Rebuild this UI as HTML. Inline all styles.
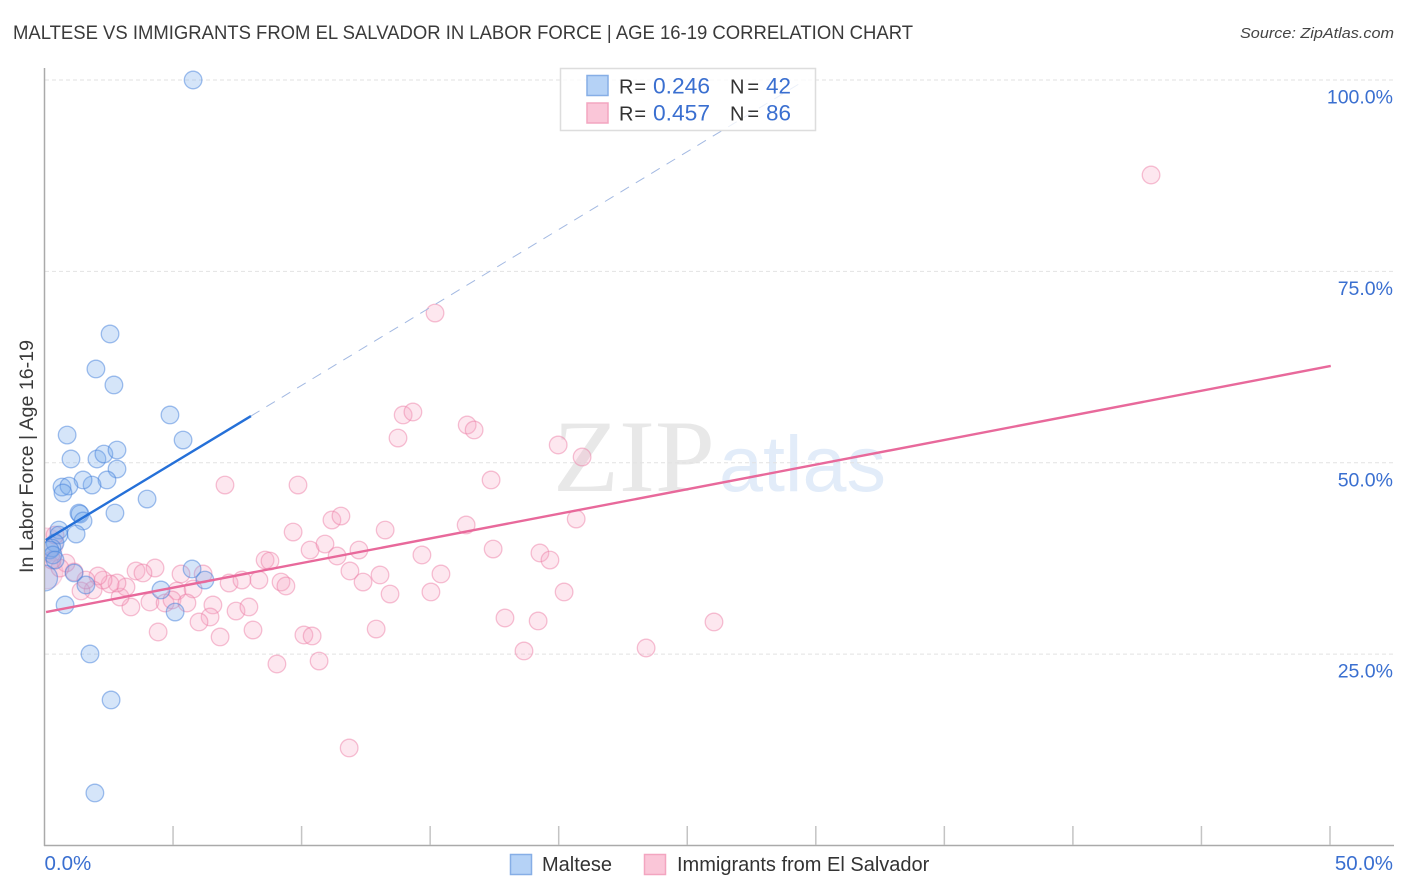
<!DOCTYPE html>
<html>
<head>
<meta charset="utf-8">
<title>Maltese vs Immigrants from El Salvador in Labor Force | Age 16-19 Correlation Chart</title>
<style>
html,body{margin:0;padding:0;background:#fff;}
svg{display:block;font-family:"Liberation Sans",sans-serif;}
</style>
</head>
<body>
<svg id="chart" xmlns="http://www.w3.org/2000/svg" width="1406" height="892" viewBox="0 0 1406 892">
  <defs><clipPath id="plot-clip"><rect x="45" y="60" width="1350" height="785"/></clipPath></defs>
  <rect x="0" y="0" width="1406" height="892" fill="#fff"/>
  <text x="13" y="39" font-size="19.5" fill="#3a3a3a" textLength="900" lengthAdjust="spacingAndGlyphs">MALTESE VS IMMIGRANTS FROM EL SALVADOR IN LABOR FORCE | AGE 16-19 CORRELATION CHART</text>
  <text x="1394" y="38" font-size="15" font-style="italic" fill="#444" text-anchor="end" textLength="154" lengthAdjust="spacingAndGlyphs">Source: ZipAtlas.com</text>
  <text x="553" y="491" font-family="'Liberation Serif',serif" font-size="103" fill="#e8e8e8" textLength="162" lengthAdjust="spacingAndGlyphs">ZIP</text>
  <text x="719" y="491" font-size="79" fill="#e2ecf9" textLength="167" lengthAdjust="spacingAndGlyphs">atlas</text>
  <g id="grid"></g>
  <g id="axes"></g>
  <g id="marks" clip-path="url(#plot-clip)"></g>
  <g id="lines"></g>
  <text transform="translate(33,456.5) rotate(-90)" font-size="19.5" fill="#3a3a3a" text-anchor="middle" textLength="233" lengthAdjust="spacingAndGlyphs">In Labor Force | Age 16-19</text>
  <g>
    <rect x="560.5" y="68.5" width="255" height="62" fill="#fff" fill-opacity="0.78" stroke="#ddd" stroke-width="1.5"/>
    <rect x="587" y="75.5" width="21" height="20" fill="#b5d2f6" stroke="#86aee6" stroke-width="1.5"/>
    <rect x="587" y="103" width="21" height="20" fill="#fac6d8" stroke="#f3a5c0" stroke-width="1.5"/>
    <text x="619" y="93.5" font-size="20" fill="#333" textLength="27" lengthAdjust="spacing">R =</text>
    <text x="653" y="93.5" font-size="22" fill="#3a6fd0" textLength="57" lengthAdjust="spacingAndGlyphs">0.246</text>
    <text x="730" y="93.5" font-size="20" fill="#333" textLength="29" lengthAdjust="spacing">N =</text>
    <text x="766" y="93.5" font-size="22" fill="#3a6fd0" textLength="25" lengthAdjust="spacingAndGlyphs">42</text>
    <text x="619" y="120.5" font-size="20" fill="#333" textLength="27" lengthAdjust="spacing">R =</text>
    <text x="653" y="120.5" font-size="22" fill="#3a6fd0" textLength="57" lengthAdjust="spacingAndGlyphs">0.457</text>
    <text x="730" y="120.5" font-size="20" fill="#333" textLength="29" lengthAdjust="spacing">N =</text>
    <text x="766" y="120.5" font-size="22" fill="#3a6fd0" textLength="25" lengthAdjust="spacingAndGlyphs">86</text>
  </g>
  <g>
    <rect x="510.5" y="854.5" width="21" height="20" fill="#b5d2f6" stroke="#86aee6" stroke-width="1.5"/>
    <text x="542" y="871" font-size="20" fill="#333">Maltese</text>
    <rect x="644.5" y="854.5" width="21" height="20" fill="#fac6d8" stroke="#f3a5c0" stroke-width="1.5"/>
    <text x="677" y="871" font-size="20" fill="#333">Immigrants from El Salvador</text>
  </g>
</svg>
<script>
const xTickValues = [0,5,10,15,20,25,30,35,40,45,50];
const xTickLabelValues = [0,50];
const xTickLabels = ["0.0%","50.0%"];
const yTickValues = [25,50,75,100];
const yTickLabels = ["25.0%","50.0%","75.0%","100.0%"];

const malteseX = [5.78,2.55,2.00,2.70,4.88,5.39,0.88,1.03,2.04,2.31,2.82,2.82,2.43,1.85,1.50,0.68,0.95,0.72,3.99,1.34,1.38,1.50,2.74,1.23,0.56,0.56,0.41,0.29,0.21,0.33,0.41,1.15,1.61,0.80,4.53,5.08,5.74,6.24,1.77,2.59,1.96];
const malteseY = [100,66.82,62.25,60.16,56.24,52.97,53.62,50.49,50.49,51.14,51.66,49.18,47.75,47.09,47.75,46.83,46.96,46.05,45.26,43.43,43.30,42.39,43.43,40.69,41.21,40.56,39.52,38.86,38.60,37.95,37.29,35.60,34.03,31.42,33.38,30.50,36.12,34.68,25.02,19.01,6.86];
const malteseClusterX = [0.0];
const malteseClusterY = [34.94];

const salvadorX = [43.04,15.19,13.95,14.33,13.75,16.44,16.71,19.98,20.91,17.37,16.40,20.68,17.45,19.27,19.66,20.21,17.91,19.20,18.65,23.40,26.04,11.85,12.90,7.02,9.86,9.67,11.18,11.53,13.25,10.33,10.91,11.38,12.23,8.58,8.77,14.68,15.42,15.03,13.05,13.44,11.88,12.39,7.18,7.68,8.34,9.20,9.39,7.45,7.95,8.11,6.83,10.09,10.41,9.04,10.68,4.30,5.31,6.17,5.15,5.78,4.10,4.69,4.96,5.54,6.55,6.44,6.01,4.42,3.56,3.83,3.36,2.94,3.17,2.82,2.55,2.28,2.08,1.89,1.42,1.61,1.15,0.84,0.60,0.41,0.29];
const salvadorY = [87.59,69.56,56.24,56.63,53.23,54.93,54.28,52.32,50.75,47.75,41.87,42.65,38.73,38.21,37.29,33.12,29.72,29.33,25.41,25.80,29.20,12.74,28.28,47.09,47.09,40.95,42.52,43.04,41.21,38.60,39.38,37.82,38.60,37.29,37.16,37.95,35.47,33.12,35.34,32.85,35.86,34.42,34.29,34.68,34.68,34.42,33.90,30.63,31.16,28.15,27.24,27.50,27.37,23.71,24.10,36.25,35.47,35.47,33.25,33.51,31.81,31.68,32.07,31.68,31.42,29.85,29.20,27.89,35.86,35.60,31.16,32.46,33.77,34.29,34.16,34.68,35.21,33.38,33.25,34.68,35.73,36.90,36.25,40.56,37.29];
const salvadorClusterX = [0.05,0.05];
const salvadorClusterY = [39.26,35.73];

const malteseTrendX = [0.05,8.03];
const malteseTrendY = [39.9,56.1];
const malteseProjectionX = [8.03,29.6];
const malteseProjectionY = [56.1,100];
const salvadorTrendX = [0.06,50.03];
const salvadorTrendY = [30.5,62.64];

const NS = "http://www.w3.org/2000/svg";
function xScale(v){ return 44.5 + v * 25.71; }
function yScale(v){ return 845.5 - v * 7.655; }
function make(tag, attrs, parent){
  const el = document.createElementNS(NS, tag);
  for (const k in attrs) el.setAttribute(k, attrs[k]);
  parent.appendChild(el);
  return el;
}
const gridG = document.getElementById("grid");
const axesG = document.getElementById("axes");
const marksG = document.getElementById("marks");
const linesG = document.getElementById("lines");

yTickValues.forEach(function(v, i){
  const g = make("line", {x1:45, x2:1393, y1:yScale(v), y2:yScale(v), stroke:"#e2e2e2", "stroke-width":1, "stroke-dasharray":"4 3"}, gridG);
  
  
  const t = make("text", {x:1393, y:yScale(v)+23.5, "font-size":19.5, fill:"#3a6fd0", "text-anchor":"end"}, axesG);
  t.textContent = yTickLabels[i];
  
  
});

const yAxis = make("line", {x1:44.5, x2:44.5, y1:68, y2:846, stroke:"#aaa", "stroke-width":1.5}, axesG);


const xAxis = make("line", {x1:44, x2:1394, y1:845.5, y2:845.5, stroke:"#aaa", "stroke-width":1.5}, axesG);



xTickValues.forEach(function(v){
  if (v === 0) return;
  const tk = make("line", {x1:xScale(v), x2:xScale(v), y1:826, y2:845, stroke:"#c4c4c4", "stroke-width":1.5}, axesG);
  
  
});
xTickLabelValues.forEach(function(v, i){
  const t = make("text", {x: i === 0 ? xScale(v) : 1393, y:870, "font-size":20.5, fill:"#3a6fd0", "text-anchor": i === 0 ? "start" : "end"}, axesG);
  t.textContent = xTickLabels[i];
  
  
});

function drawPoints(xs, ys, r, fill, stroke, name){
  xs.forEach(function(v, i){
    const c = make("circle", {cx:xScale(v), cy:yScale(ys[i]), r:r, fill:fill, stroke:stroke, "stroke-width":1.3}, marksG);
    
    
  });
}
const pinkFill = "rgba(247,165,195,0.27)", pinkStroke = "rgba(236,125,165,0.48)";
const blueFill = "rgba(115,170,235,0.30)", blueStroke = "rgba(70,130,220,0.50)";
drawPoints(salvadorClusterX, salvadorClusterY, 17, pinkFill, "rgba(236,125,165,0.3)", "point-el-salvador-cluster");
drawPoints(salvadorX, salvadorY, 8.8, pinkFill, pinkStroke, "point-el-salvador");
drawPoints(malteseClusterX, malteseClusterY, 13, blueFill, blueStroke, "point-maltese-cluster");
drawPoints(malteseX, malteseY, 8.8, blueFill, blueStroke, "point-maltese");

function drawLine(xs, ys, color, width, dash, name){
  const attrs = {x1:xScale(xs[0]), y1:yScale(ys[0]), x2:xScale(xs[1]), y2:yScale(ys[1]), stroke:color, "stroke-width":width};
  if (dash) attrs["stroke-dasharray"] = dash;
  const l = make("line", attrs, linesG);
  
  
}
drawLine(malteseProjectionX, malteseProjectionY, "#a3b9e2", 1, "10 8", "trend-maltese-projection");
drawLine(malteseTrendX, malteseTrendY, "#2570d8", 2.4, null, "trend-maltese");
drawLine(salvadorTrendX, salvadorTrendY, "#e8699b", 2.4, null, "trend-el-salvador");
</script>
</body>
</html>
